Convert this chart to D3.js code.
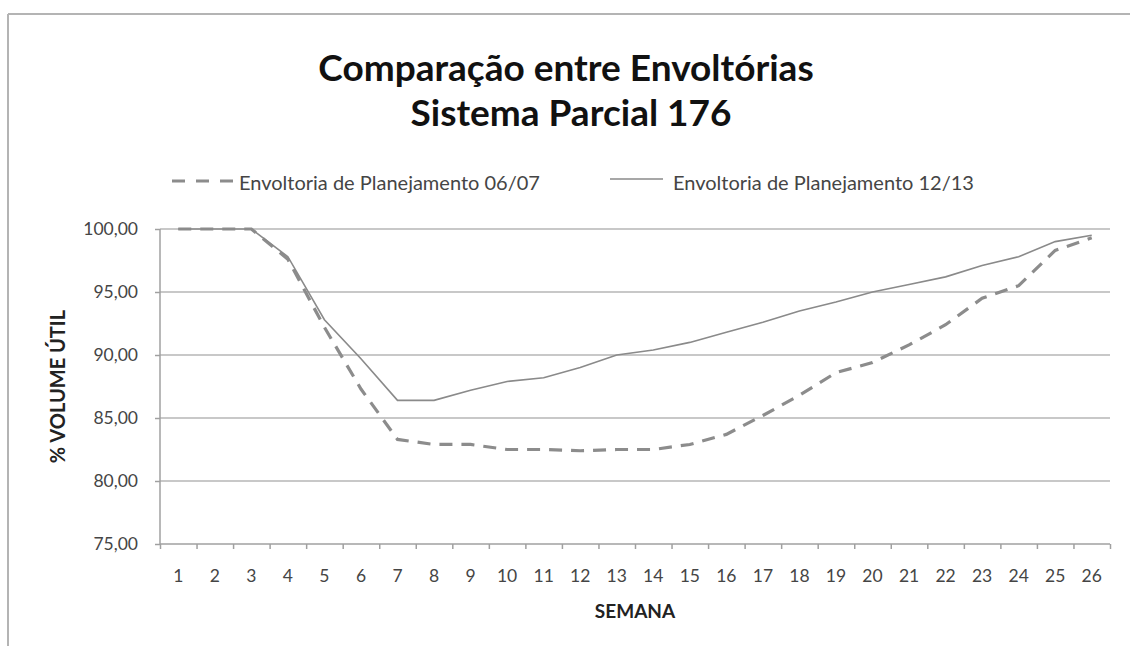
<!DOCTYPE html>
<html>
<head>
<meta charset="utf-8">
<script src="https://cdn.jsdelivr.net/npm/d3@7"></script>
<style>
  body { margin: 0; background: #fff; }
  svg { display: block; font-family: Lato, "Open Sans", sans-serif; }
  .grid line { stroke: #c8c8c8; stroke-width: 2; }
  .axis path, .axis line { stroke: #a0a0a0; stroke-width: 1.5; }
  .axis text { fill: #454545; font-size: 17.5px; font-family: Lato, sans-serif; }
</style>
</head>
<body>
<div id="chart"></div>
<script>
// data
var semanas = d3.range(1, 27).map(String);
var env0607 = [100, 100, 100, 97.6, 92.2, 87.3, 83.3, 82.9, 82.9, 82.5, 82.5, 82.4, 82.5,
               82.5, 82.9, 83.7, 85.2, 86.8, 88.6, 89.4, 90.8, 92.4, 94.5, 95.5, 98.3, 99.3];
var env1213 = [100, 100, 100, 97.8, 92.8, 89.7, 86.4, 86.4, 87.2, 87.9, 88.2, 89.0, 90.0,
               90.4, 91.0, 91.8, 92.6, 93.5, 94.2, 95.0, 95.6, 96.2, 97.1, 97.8, 99.0, 99.5];
var yTicks = [75, 80, 85, 90, 95, 100];
var seriesNames = ['Envoltoria de Planejamento 06/07', 'Envoltoria de Planejamento 12/13'];

var width = 1130, height = 646;
var plot = {left: 160, right: 1110, top: 229, bottom: 544};

var svg = d3.select('#chart').append('svg')
  .attr('width', width)
  .attr('height', height);

svg.append('rect').attr('width', width).attr('height', height).attr('fill', '#fff');

// outer frame (only top & left visible in the source)
svg.append('line').attr('x1', 8).attr('x2', width).attr('y1', 14).attr('y2', 14)
  .attr('stroke', '#b4b4b4').attr('stroke-width', 2);
svg.append('line').attr('x1', 8).attr('x2', 8).attr('y1', 14).attr('y2', height)
  .attr('stroke', '#b4b4b4').attr('stroke-width', 2);

var x = d3.scaleBand().domain(semanas).range([plot.left, plot.right]);
var xEdge = d3.scaleLinear().domain([0, semanas.length]).range([plot.left, plot.right]);
var y = d3.scaleLinear().domain([75, 100]).range([plot.bottom, plot.top]);

// gridlines
svg.append('g').attr('class', 'grid')
  .selectAll('line').data(yTicks.filter(function(d) { return d > 75; }))
  .enter().append('line')
  .attr('x1', plot.left).attr('x2', plot.right)
  .attr('y1', function(d) { return y(d); })
  .attr('y2', function(d) { return y(d); });

// y axis
var fmt = function(d) { return d3.format('.2f')(d).replace('.', ','); };
var yAxis = svg.append('g').attr('class', 'axis')
  .attr('transform', 'translate(' + plot.left + ',0)')
  .call(d3.axisLeft(y).tickValues(yTicks).tickSize(5).tickPadding(17).tickFormat(fmt));
yAxis.select('.domain').attr('d', 'M0,' + plot.top + 'V' + plot.bottom);

// x axis: tick marks between categories, labels at centres
var xTicks = svg.append('g').attr('class', 'axis')
  .attr('transform', 'translate(0,' + plot.bottom + ')')
  .call(d3.axisBottom(xEdge).tickValues(d3.range(0, semanas.length + 1)).tickSize(5).tickFormat(''));
xTicks.select('.domain').attr('d', 'M' + plot.left + ',0H' + plot.right);

var xLabels = svg.append('g').attr('class', 'axis')
  .attr('transform', 'translate(0,' + plot.bottom + ')')
  .call(d3.axisBottom(x).tickSize(0).tickPadding(26));
xLabels.select('.domain').remove();

// lines
var line = d3.line()
  .x(function(d, i) { return x(semanas[i]) + x.bandwidth() / 2; })
  .y(function(d) { return y(d); });

svg.append('path').datum(env0607)
  .attr('fill', 'none')
  .attr('stroke', '#8c8c8c')
  .attr('stroke-width', 3.2)
  .attr('stroke-dasharray', '13,9')
  .attr('d', line);

svg.append('path').datum(env1213)
  .attr('fill', 'none')
  .attr('stroke', '#8a8a8a')
  .attr('stroke-width', 1.6)
  .attr('d', line);

// titles
svg.append('text').attr('x', 566).attr('y', 81)
  .attr('text-anchor', 'middle').attr('font-size', 37).attr('font-weight', 'bold').attr('fill', '#111')
  .text('Comparação entre Envoltórias');
svg.append('text').attr('x', 571).attr('y', 126)
  .attr('text-anchor', 'middle').attr('font-size', 37).attr('font-weight', 'bold').attr('fill', '#111')
  .text('Sistema Parcial 176');

// axis titles
svg.append('text').attr('x', (plot.left + plot.right) / 2).attr('y', 618)
  .attr('text-anchor', 'middle').attr('font-size', 19).attr('font-weight', 'bold').attr('fill', '#222')
  .text('SEMANA');
svg.append('text')
  .attr('transform', 'translate(65,' + (plot.top + plot.bottom) / 2 + ') rotate(-90)')
  .attr('text-anchor', 'middle').attr('font-size', 20).attr('font-weight', 'bold').attr('fill', '#222')
  .text('% VOLUME ÚTIL');

// legend
var legend = svg.append('g');
legend.append('line').attr('x1', 172).attr('x2', 234).attr('y1', 181).attr('y2', 181)
  .attr('stroke', '#8c8c8c').attr('stroke-width', 3.2).attr('stroke-dasharray', '13,11');
legend.append('text').attr('x', 239).attr('y', 190)
  .attr('font-size', 20).attr('fill', '#454545').text(seriesNames[0]);
legend.append('line').attr('x1', 610).attr('x2', 663).attr('y1', 179).attr('y2', 179)
  .attr('stroke', '#8a8a8a').attr('stroke-width', 1.6);
legend.append('text').attr('x', 673).attr('y', 190)
  .attr('font-size', 20).attr('fill', '#454545').text(seriesNames[1]);
</script>
</body>
</html>
